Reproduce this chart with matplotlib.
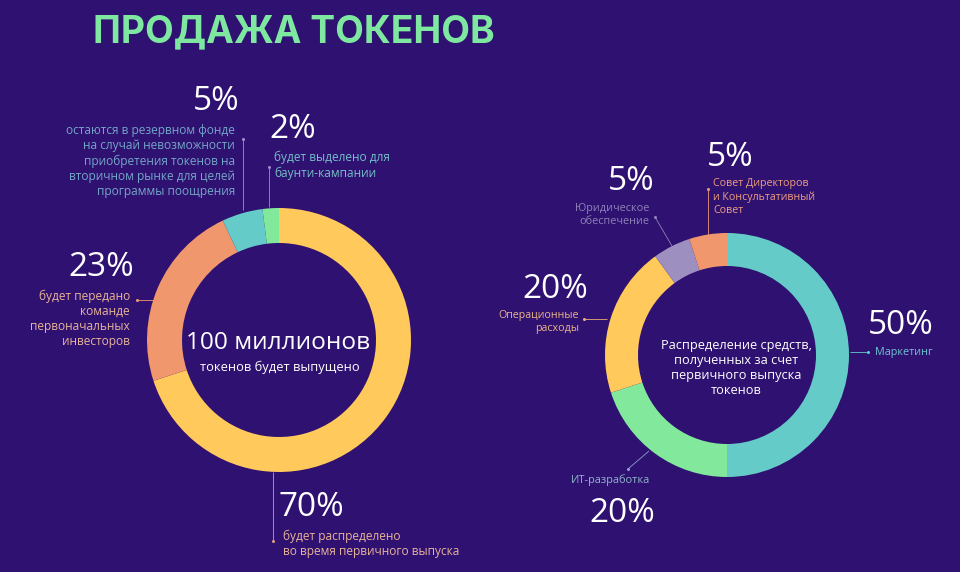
import matplotlib
matplotlib.use("Agg")
import matplotlib.pyplot as plt

BG = "#2E1170"
YELLOW, ORANGE, TEAL, GREEN, PURPLE = "#FFC95C", "#F0976E", "#65CBC8", "#82E89B", "#9D8FC0"
plt.rcParams['font.family'] = ['Open Sans', 'DejaVu Sans']

left_values = [70, 23, 5, 2]
left_colors = [YELLOW, ORANGE, TEAL, GREEN]
right_values = [50, 20, 20, 5, 5]
right_colors = [TEAL, GREEN, YELLOW, PURPLE, ORANGE]

W, H = 960, 572
fig = plt.figure(figsize=(W / 100, H / 100), dpi=100, facecolor=BG)


def donut(values, colors, cx, cy, r, r_in):
    ax = fig.add_axes([(cx - r) / W, 1 - (cy + r) / H, 2 * r / W, 2 * r / H])
    ax.pie(values, colors=colors, startangle=90, counterclock=False, radius=1,
           wedgeprops=dict(width=1 - r_in / r, linewidth=0))
    ax.set_xlim(-1, 1)
    ax.set_ylim(-1, 1)
    ax.set_aspect('auto')
    ax.axis('off')


donut(left_values, left_colors, 279, 340, 132, 97)
donut(right_values, right_colors, 727, 355, 122, 89)

ov = fig.add_axes([0, 0, 1, 1], zorder=5)
ov.set_xlim(0, W)
ov.set_ylim(H, 0)
ov.axis('off')
ov.patch.set_alpha(0)

ov.text(93, 32, "ПРОДАЖА ТОКЕНОВ", color="#7FE8A0", fontsize=26.8, fontweight='bold',
        family=['Inter', 'DejaVu Sans'], va='center', ha='left')

percents = [("5%", 216, 101), ("2%", 293, 129), ("23%", 101, 268), ("70%", 311, 507),
            ("5%", 730, 157), ("5%", 631, 182), ("20%", 555, 290), ("50%", 901, 325),
            ("20%", 622, 513)]
for s, x, y in percents:
    ov.text(x, y, s, color="white", fontsize=24, ha='center', va='center')

PEACH = "#E8B49A"
notes = [
    ("остаются в резервном фонде\nна случай невозможности\nприобретения токенов на\nвторичном рынке для целей\nпрограммы поощрения",
     235, 161, 'right', "#74A6C8", 8.6),
    ("будет выделено для\nбаунти-кампании", 274, 165.5, 'left', "#74BFC8", 8.6),
    ("будет передано\nкоманде\nпервоначальных\nинвесторов", 130, 319, 'right', PEACH, 8.6),
    ("будет распределено\nво время первичного выпуска", 283, 544, 'left', PEACH, 8.6),
    ("Совет Директоров\nи Консультативный\nСовет", 713, 197, 'left', "#EE9F80", 7.7),
    ("Юридическое\nобеспечение", 649, 215, 'right', "#8F82B8", 7.8),
    ("Операционные\nрасходы", 579, 322, 'right', "#EBB58A", 7.7),
    ("Маркетинг", 875, 352, 'left', "#6FC4D0", 7.8),
    ("ИТ-разработка", 610, 480, 'center', "#8FB5C8", 7.9),
]
for s, x, y, ha, c, fs in notes:
    ov.text(x, y, s, color=c, fontsize=fs, ha=ha, va='center', linespacing=1.22,
            multialignment=ha)

leaders = [
    ([243, 243], [139, 210], "#9D8FD0"),
    ([269, 269], [167, 207], "#9D8FD0"),
    ([137, 155], [300, 300], ORANGE),
    ([273, 273], [541, 472], "#D8A080"),
    ([708, 708], [189, 236], "#E89A78"),
    ([655, 672], [217, 246], "#8F82B8"),
    ([584, 607], [319, 319], "#E8B070"),
    ([868, 850], [352, 352], "#65CBC8"),
    ([628, 649], [469, 451], "#8F9FD0"),
]
for xs, ys, c in leaders:
    ov.plot(xs, ys, color=c, lw=0.6, solid_capstyle='butt')
    ov.plot(xs[0], ys[0], 'o', color=c, ms=2.2, mew=0)

ov.text(278, 343, "100 миллионов", color="white", fontsize=17.6, ha='center', va='center')
ov.text(280, 367, "токенов будет выпущено", color="white", fontsize=9.3, ha='center', va='center')
ov.text(736, 368, "Распределение средств,\nполученных за счет\nпервичного выпуска\nтокенов", color="white",
        fontsize=9.2, ha='center', va='center', linespacing=1.2)

fig.savefig("out.png", dpi=100, facecolor=BG)
